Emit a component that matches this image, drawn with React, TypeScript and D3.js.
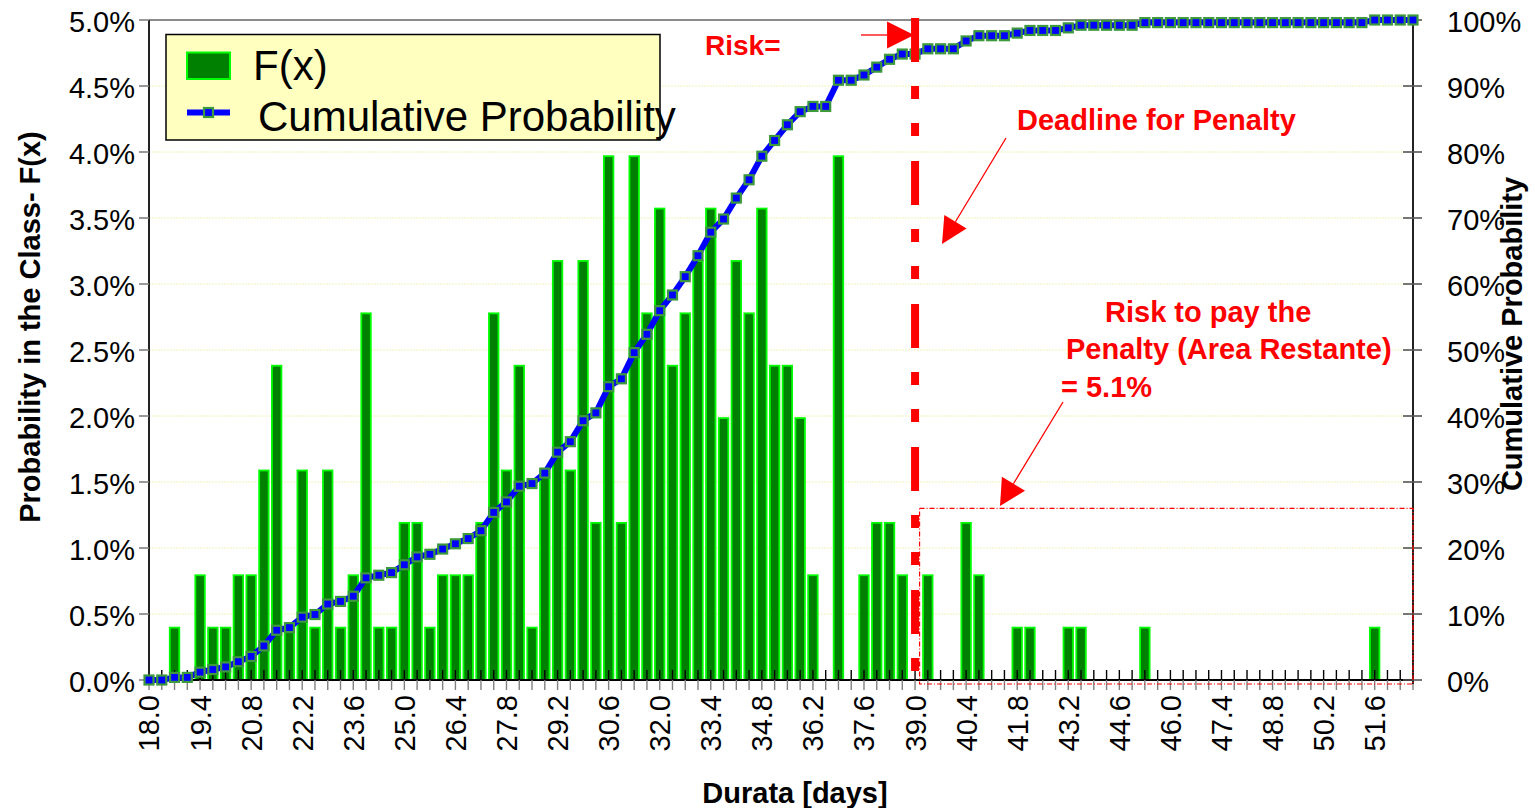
import React from 'react';
import * as d3 from 'd3';

// ---- data ----
const durations: number[] = [
  18.0, 18.35, 18.7, 19.05, 19.4, 19.75, 20.1, 20.45, 20.8, 21.15,
  21.5, 21.85, 22.2, 22.55, 22.9, 23.25, 23.6, 23.95, 24.3, 24.65,
  25.0, 25.35, 25.7, 26.05, 26.4, 26.75, 27.1, 27.45, 27.8, 28.15,
  28.5, 28.85, 29.2, 29.55, 29.9, 30.25, 30.6, 30.95, 31.3, 31.65,
  32.0, 32.35, 32.7, 33.05, 33.4, 33.75, 34.1, 34.45, 34.8, 35.15,
  35.5, 35.85, 36.2, 36.55, 36.9, 37.25, 37.6, 37.95, 38.3, 38.65,
  39.0, 39.35, 39.7, 40.05, 40.4, 40.75, 41.1, 41.45, 41.8, 42.15,
  42.5, 42.85, 43.2, 43.55, 43.9, 44.25, 44.6, 44.95, 45.3, 45.65,
  46.0, 46.35, 46.7, 47.05, 47.4, 47.75, 48.1, 48.45, 48.8, 49.15,
  49.5, 49.85, 50.2, 50.55, 50.9, 51.25, 51.6, 51.95, 52.3, 52.65,
];

// number of simulation runs falling in each class
const binCounts: number[] = [
  0, 0, 1, 0, 2, 1, 1, 2, 2, 4,
  6, 1, 4, 1, 4, 1, 2, 7, 1, 1,
  3, 3, 1, 2, 2, 2, 3, 7, 4, 6,
  1, 4, 8, 4, 8, 3, 10, 3, 10, 7,
  9, 6, 7, 8, 9, 5, 8, 7, 9, 6,
  6, 5, 2, 0, 10, 0, 2, 3, 3, 2,
  0, 2, 0, 0, 3, 2, 0, 0, 1, 1,
  0, 0, 1, 1, 0, 0, 0, 0, 1, 0,
  0, 0, 0, 0, 0, 0, 0, 0, 0, 0,
  0, 0, 0, 0, 0, 0, 1, 0, 0, 0,
];
const sampleSize = 252;

const xTickLabels: string[] = [
  '18.0', '19.4', '20.8', '22.2', '23.6', '25.0', '26.4', '27.8', '29.2', '30.6',
  '32.0', '33.4', '34.8', '36.2', '37.6', '39.0', '40.4', '41.8', '43.2', '44.6',
  '46.0', '47.4', '48.8', '50.2', '51.6',
];
const leftTicks: number[] = [0, 0.5, 1, 1.5, 2, 2.5, 3, 3.5, 4, 4.5, 5];
const rightTicks: number[] = [0, 10, 20, 30, 40, 50, 60, 70, 80, 90, 100];
const legendLabels: string[] = ['F(x)', 'Cumulative Probability'];
const deadlineDuration = 39.0;
const riskBoxLevel = 1.3; // % on left axis

const FONT = '"Liberation Sans", Arial, Helvetica, sans-serif';
const RED = '#FF0000';
const MK = 9; // marker inner size

function Arrow({ x1, y1, x2, y2, len, wid }: { x1: number; y1: number; x2: number; y2: number; len: number; wid: number }) {
  const dx = x2 - x1;
  const dy = y2 - y1;
  const L = Math.hypot(dx, dy);
  const ux = dx / L;
  const uy = dy / L;
  const bx = x2 - ux * len;
  const by = y2 - uy * len;
  const px = -uy * (wid / 2);
  const py = ux * (wid / 2);
  const pts = `${x2},${y2} ${bx + px},${by + py} ${bx - px},${by - py}`;
  return (
    <g>
      <line x1={x1} y1={y1} x2={bx} y2={by} stroke={RED} strokeWidth={1.3} />
      <polygon points={pts} fill={RED} />
    </g>
  );
}

export default function App() {
  const W = 1535;
  const H = 808;
  const left = 149;
  const right = 1413;
  const top = 20;
  const bottom = 680;

  const x = d3.scalePoint<number>().domain(durations).range([left, right]);
  const yL = d3.scaleLinear().domain([0, 5]).range([bottom, top]);
  const yR = d3.scaleLinear().domain([0, 100]).range([bottom, top]);

  const prob = binCounts.map((c) => (c / sampleSize) * 100);
  const cum = Array.from(d3.cumsum(binCounts), (c) => (c / sampleSize) * 100);

  const line = d3
    .line<number>()
    .x((_, i) => x(durations[i]) as number)
    .y((d) => yR(d));

  const fmtL = d3.format('.1f');
  const barW = 9.5;
  const xd = x(deadlineDuration) as number;

  return (
    <svg
      width={W}
      height={H}
      style={{ position: 'absolute', left: 0, top: 0, background: '#fff' }}
      fontFamily={FONT}
    >
      <rect x={0} y={0} width={W} height={H} fill="#fff" />

      {/* gridlines */}
      {leftTicks.filter((t) => t > 0 && t < 5).map((t) => (
        <line key={'g' + t} x1={left} x2={right} y1={yL(t)} y2={yL(t)} stroke="#F2F2B8" strokeWidth={1} strokeDasharray="2,1" />
      ))}

      {/* top border */}
      <line x1={left} x2={right} y1={top} y2={top} stroke="#8C8C8C" strokeWidth={2} />

      {/* bars */}
      {prob.map((p, i) =>
        p > 0 ? (
          <rect
            key={'b' + i}
            x={(x(durations[i]) as number) - barW / 2}
            y={yL(p)}
            width={barW}
            height={yL(0) - yL(p)}
            fill="#008000"
            stroke="#00FF00"
            strokeWidth={1.8}
          />
        ) : null
      )}

      {/* x axis */}
      <line x1={left} x2={right} y1={bottom} y2={bottom} stroke="#000" strokeWidth={2} />
      {durations.map((d, i) => (
        <g key={'xt' + i}>
          <line x1={x(d)} x2={x(d)} y1={bottom - 10} y2={bottom} stroke="#000" strokeWidth={1.4} />
          <line x1={x(d)} x2={x(d)} y1={bottom} y2={bottom + 10} stroke="#808080" strokeWidth={1.4} />
        </g>
      ))}
      {xTickLabels.map((lab) => {
        const px = x(parseFloat(lab)) as number;
        return (
          <text
            key={'xl' + lab}
            transform={`translate(${px},695) rotate(-90)`}
            textAnchor="end"
            dy="0.36em"
            fontSize={29}
            fill="#000"
          >
            {lab}
          </text>
        );
      })}

      {/* left axis */}
      <line x1={left} x2={left} y1={top} y2={bottom + 1} stroke="#222" strokeWidth={2} />
      {leftTicks.map((t) => (
        <g key={'lt' + t}>
          <line x1={left - 10} x2={left} y1={yL(t)} y2={yL(t)} stroke="#808080" strokeWidth={1.6} />
          <text x={135} y={yL(t) + 12} textAnchor="end" fontSize={29} fill="#000">
            {fmtL(t) + '%'}
          </text>
        </g>
      ))}

      {/* right axis */}
      <line x1={right} x2={right} y1={top} y2={bottom + 4} stroke="#222" strokeWidth={2} />
      {rightTicks.map((t) => (
        <g key={'rt' + t}>
          <line x1={right - 10} x2={right + 9} y1={yR(t)} y2={yR(t)} stroke="#555" strokeWidth={1.6} />
          <text x={1447} y={yR(t) + 12} textAnchor="start" fontSize={29} fill="#000">
            {t + '%'}
          </text>
        </g>
      ))}

      {/* cumulative line */}
      <path d={line(cum) as string} fill="none" stroke="#0000FF" strokeWidth={6} />
      {cum.map((c, i) => (
        <rect
          key={'m' + i}
          x={(x(durations[i]) as number) - MK / 2}
          y={yR(c) - MK / 2}
          width={MK}
          height={MK}
          fill="#0000FF"
          stroke="#3C9A3C"
          strokeWidth={2.2}
        />
      ))}

      {/* risk area box */}
      <rect
        x={xd + 4.5}
        y={yL(riskBoxLevel)}
        width={right - xd - 4.5}
        height={yL(0) + 4 - yL(riskBoxLevel)}
        fill="none"
        stroke={RED}
        strokeWidth={1.2}
        strokeDasharray="5,2,1,2"
      />

      {/* deadline line */}
      <line
        x1={xd}
        x2={xd}
        y1={18}
        y2={bottom}
        stroke={RED}
        strokeWidth={8}
        strokeDasharray="44,24,13,24,13,25"
      />

      {/* annotations */}
      <text x={705} y={55} fontSize={28} fontWeight="bold" fill={RED}>Risk=</text>
      <Arrow x1={861} y1={35} x2={xd - 1} y2={35} len={27} wid={27} />

      <text x={1017} y={130} fontSize={29} fontWeight="bold" fill={RED}>Deadline for Penalty</text>
      <Arrow x1={1006} y1={138} x2={942} y2={244} len={26} wid={26} />

      <text x={1105} y={322} fontSize={29} fontWeight="bold" fill={RED}>Risk to pay the</text>
      <text x={1066} y={359} fontSize={29} fontWeight="bold" fill={RED}>Penalty (Area Restante)</text>
      <text x={1061} y={397} fontSize={29} fontWeight="bold" fill={RED}>= 5.1%</text>
      <Arrow x1={1063} y1={402} x2={1000} y2={506} len={26} wid={27} />

      {/* legend */}
      <rect x={166} y={34.5} width={494} height={105.5} fill="#FFFFC0" stroke="#000" strokeWidth={1.5} />
      <rect x={187} y={52.5} width={43} height={26.5} fill="#008000" stroke="#00FF00" strokeWidth={2} />
      <text x={253} y={80} fontSize={42} fill="#000">{legendLabels[0]}</text>
      <line x1={187} x2={230} y1={112.5} y2={112.5} stroke="#0000FF" strokeWidth={6} />
      <rect x={208.5 - MK / 2} y={112.5 - MK / 2} width={MK} height={MK} fill="#0000FF" stroke="#3C9A3C" strokeWidth={2.2} />
      <text x={258} y={131} fontSize={42} fill="#000">{legendLabels[1]}</text>

      {/* axis titles */}
      <text
        transform="translate(39.5,327) rotate(-90)"
        textAnchor="middle"
        fontSize={29}
        fontWeight="bold"
        fill="#000"
      >
        Probability in the Class- F(x)
      </text>
      <text
        transform="translate(1522,334) rotate(-90)"
        textAnchor="middle"
        fontSize={29}
        fontWeight="bold"
        fill="#000"
      >
        Cumulative Probability
      </text>
      <text x={795} y={803} textAnchor="middle" fontSize={29} fontWeight="bold" fill="#000">
        Durata [days]
      </text>
    </svg>
  );
}
